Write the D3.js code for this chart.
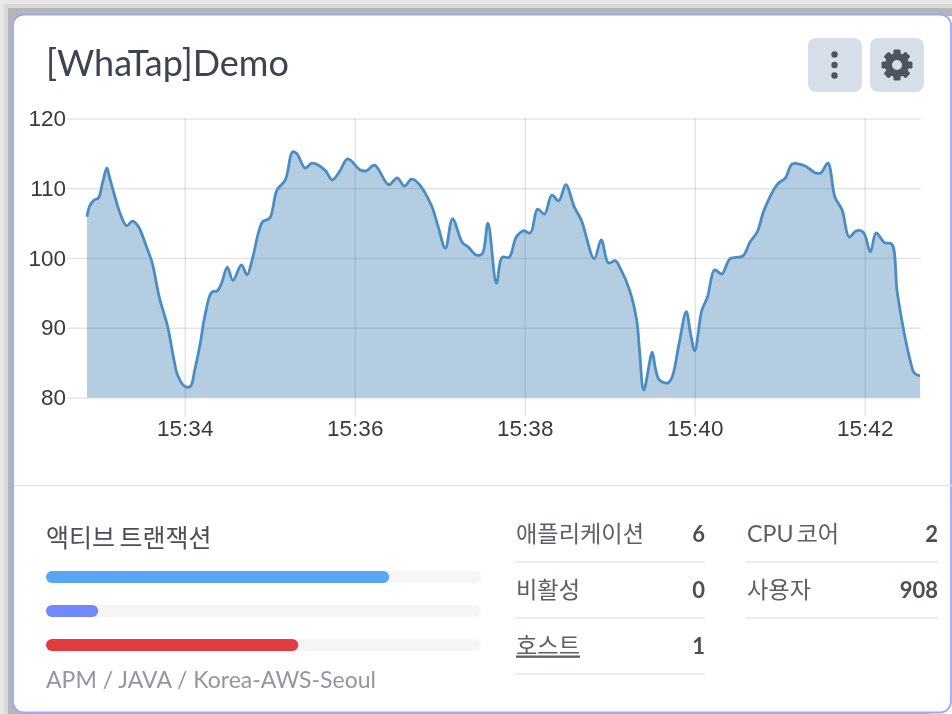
<!DOCTYPE html>
<html>
<head>
<meta charset="utf-8">
<script src="https://cdn.jsdelivr.net/npm/d3@7"></script>
<style>
    html, body { margin: 0; padding: 0; background: #fff; overflow: hidden; }
    svg { display: block; filter: blur(0.55px); }
    text { font-family: Lato, "Noto Sans CJK KR", sans-serif; }
    .tick text { font-family: "Liberation Sans", Arial, sans-serif; }
</style>
</head>
<body>
<div class="container"></div>
<script>
const times = ["15:32:51","15:32:53","15:32:56","15:32:59","15:33:02","15:33:05","15:33:07","15:33:11","15:33:14","15:33:19","15:33:23","15:33:27","15:33:33","15:33:37","15:33:42","15:33:48","15:33:52","15:33:55","15:34:00","15:34:04","15:34:07","15:34:11","15:34:14","15:34:19","15:34:23","15:34:26","15:34:30","15:34:34","15:34:40","15:34:44","15:34:48","15:34:52","15:34:55","15:35:00","15:35:05","15:35:11","15:35:16","15:35:19","15:35:25","15:35:30","15:35:39","15:35:44","15:35:49","15:35:55","15:36:04","15:36:08","15:36:14","15:36:24","15:36:30","15:36:35","15:36:40","15:36:44","15:36:54","15:36:59","15:37:04","15:37:09","15:37:16","15:37:20","15:37:26","15:37:30","15:37:34","15:37:40","15:37:44","15:37:49","15:37:54","15:37:59","15:38:04","15:38:09","15:38:14","15:38:19","15:38:24","15:38:29","15:38:35","15:38:40","15:38:49","15:38:54","15:38:59","15:39:04","15:39:07","15:39:14","15:39:19","15:39:21","15:39:24","15:39:30","15:39:32","15:39:35","15:39:41","15:39:44","15:39:49","15:39:54","15:39:57","15:40:00","15:40:05","15:40:09","15:40:14","15:40:19","15:40:25","15:40:34","15:40:39","15:40:44","15:40:49","15:40:58","15:41:04","15:41:09","15:41:18","15:41:25","15:41:29","15:41:34","15:41:39","15:41:44","15:41:49","15:41:54","15:41:59","15:42:04","15:42:08","15:42:14","15:42:19","15:42:23","15:42:32","15:42:35","15:42:39"];
const values = [105.9,107.5,108.3,108.6,110.8,112.9,111.5,108.6,106.6,104.6,105.3,104.6,101.6,99.3,94.4,90.1,85.8,83.2,81.6,81.6,83.9,87.8,91.5,95.1,95.3,96.4,98.7,96.8,99,97.6,100.1,103.6,105.2,105.7,109.7,111.2,115.2,115,112.9,113.6,112.6,111.2,112.3,114.2,112.6,112.5,113.3,110.5,111.5,110.3,111.3,110.9,107.6,104.4,101.4,105.6,102.2,101.6,100.4,100.6,105,96.4,100.1,100.1,103,103.9,103.6,107,106.3,109,108.2,110.5,107.3,105.4,99.9,102.6,99.3,99.6,98.7,95.4,91.1,86.8,81.1,86.5,84.4,82.5,82.1,82.9,87.8,92.3,89.2,86.7,92.5,94.4,98.3,97.7,99.9,100.3,102.3,103.7,106.9,110.5,111.5,113.5,113.2,112.2,112.2,113.6,108.7,106.9,103,103.9,103.7,100.9,103.6,102.2,102,95,85.4,83.5,83.1];
const yTicks = [80, 90, 100, 110, 120];
const xTicks = ["15:34:00", "15:36:00", "15:38:00", "15:40:00", "15:42:00"];

const activeValues = [78.9, 12, 58];
const activeColors = ["#58a6f2", "#7189fb", "#e23c3f"];

const statsLeft = ["애플리케이션", "비활성", "호스트"];
const statsLeftValues = [6, 0, 1];
const statsRight = ["CPU 코어", "사용자"];
const statsRightValues = [2, 908];

const width = 952
const height = 714
const margin = {"top": 118.5, "right": 32, "bottom": 316.5, "left": 87}

const svg = d3.select(".container")
    .append("svg")
    .attr("width", width)
    .attr("height", height)

// Screenshot shadow around the card, it comes in steps
svg.selectAll(".shadow")
    .data([[0, "#e8e8e8"], [4, "#d8d8d8"], [8, "#b6b6b6"]])
    .enter()
    .append("rect")
        .attr("class", "shadow")
        .attr("x", d => d[0])
        .attr("y", d => d[0])
        .attr("width", width)
        .attr("height", height)
        .attr("fill", d => d[1])
svg.append("rect")
    .attr("x", 930)
    .attr("y", 16)
    .attr("width", 22)
    .attr("height", height)
    .attr("fill", "#fff")

// Card
svg.append("rect")
    .attr("x", 13)
    .attr("y", 14.5)
    .attr("width", 938)
    .attr("height", 698)
    .attr("rx", 11)
    .attr("fill", "#fff")
    .attr("stroke", "#98abfa")
    .attr("stroke-width", 1.8)

svg.append("text")
    .attr("x", 46)
    .attr("y", 76)
    .attr("font-size", 36)
    .attr("fill", "#3c4450")
    .text("[WhaTap]Demo")

// Buttons
const buttons = svg.append("g")
buttons.selectAll("rect")
    .data([808, 870])
    .enter()
    .append("rect")
        .attr("x", d => d)
        .attr("y", 38)
        .attr("width", 54)
        .attr("height", 54)
        .attr("rx", 8)
        .attr("fill", "#d6dfe9")
buttons.selectAll("circle")
    .data([54.5, 65, 75.5])
    .enter()
    .append("circle")
        .attr("cx", 834.5)
        .attr("cy", d => d)
        .attr("r", 3.2)
        .attr("fill", "#4a5560")

const gear = svg.append("g").attr("transform", "translate(897,65)")
gear.selectAll("rect")
    .data(d3.range(0, 360, 45))
    .enter()
    .append("rect")
        .attr("x", -3.6)
        .attr("y", -15.5)
        .attr("width", 7.2)
        .attr("height", 9)
        .attr("rx", 1.5)
        .attr("fill", "#4a5560")
        .attr("transform", d => `rotate(${d})`)
gear.append("circle")
    .attr("r", 8.5)
    .attr("fill", "none")
    .attr("stroke", "#4a5560")
    .attr("stroke-width", 7)

// Chart
const parseTime = d3.timeParse("%H:%M:%S")
const data = times.map((t, i) => ({ time: parseTime(t), value: values[i] }))

const x = d3.scaleTime()
    .domain([parseTime(times[0]), parseTime(times[times.length - 1])])
    .range([margin.left, width - margin.right])

const y = d3.scaleLinear()
    .domain([yTicks[0], yTicks[yTicks.length - 1]])
    .range([height - margin.bottom, margin.top])

// grid lines are drawn first, the area is see-through
const xAxis = svg.append("g")
    .attr("transform", `translate(0, ${y(80)})`)
    .call(d3.axisBottom(x)
        .tickValues(xTicks.map(parseTime))
        .tickFormat(d3.timeFormat("%H:%M"))
        .tickSize(0))
xAxis.selectAll(".tick line")
    .attr("y1", 19)
    .attr("y2", y(120) - y(80))
    .attr("stroke", "#000")
    .attr("stroke-opacity", 0.1)
    .attr("stroke-width", 1.5)
xAxis.selectAll(".tick text")
    .attr("y", 23)
    .attr("font-size", 22.5)
    .attr("fill", "#3a3a3a")
xAxis.select(".domain").remove()

const yAxis = svg.append("g")
    .attr("transform", `translate(${margin.left}, 0)`)
    .call(d3.axisLeft(y)
        .tickValues(yTicks)
        .tickSize(0))
yAxis.selectAll(".tick line")
    .attr("x1", -20)
    .attr("x2", width - margin.right - margin.left + 1)
    .attr("stroke", "#000")
    .attr("stroke-opacity", 0.1)
    .attr("stroke-width", 1.5)
yAxis.selectAll(".tick text")
    .attr("x", -21)
    .attr("font-size", 22.5)
    .attr("fill", "#3a3a3a")
yAxis.select(".domain").remove()

svg.append("path")
    .datum(data)
    .attr("fill", "#2f74ab")
    .attr("fill-opacity", 0.36)
    .attr("d", d3.area()
        .x(d => x(d.time))
        .y0(y(80))
        .y1(d => y(d.value))
        .curve(d3.curveCatmullRom.alpha(0.5)))

svg.append("path")
    .datum(data)
    .attr("fill", "none")
    .attr("stroke", "#4a8cc4")
    .attr("stroke-width", 2.8)
    .attr("d", d3.line()
        .x(d => x(d.time))
        .y(d => y(d.value))
        .curve(d3.curveCatmullRom.alpha(0.5)))

// Divider
svg.append("line")
    .attr("x1", 14).attr("x2", width)
    .attr("y1", 485.5).attr("y2", 485.5)
    .attr("stroke", "#dde3f0")
    .attr("stroke-width", 1.5)

// Active transactions
svg.append("text")
    .attr("x", 46)
    .attr("y", 547)
    .attr("font-size", 25)
    .attr("word-spacing", -2)
    .attr("fill", "#4b5058")
    .text("액티브 트랜잭션")

const barX = d3.scaleLinear().domain([0, 100]).range([0, 435])
const barY = d3.scaleBand()
    .domain(d3.range(activeValues.length))
    .range([571, 651 + 22])
    .paddingInner(0)

const bars = svg.append("g").attr("transform", "translate(46, 0)")
bars.selectAll(".track")
    .data(activeValues)
    .enter()
    .append("rect")
        .attr("class", "track")
        .attr("y", (d, i) => barY(i))
        .attr("width", barX(100))
        .attr("height", 12)
        .attr("rx", 6)
        .attr("fill", "#f5f5f5")
bars.selectAll(".bar")
    .data(activeValues)
    .enter()
    .append("rect")
        .attr("class", "bar")
        .attr("y", (d, i) => barY(i))
        .attr("width", d => barX(d))
        .attr("height", 12)
        .attr("rx", 6)
        .attr("fill", (d, i) => activeColors[i])

svg.append("text")
    .attr("x", 46)
    .attr("y", 688)
    .attr("font-size", 23)
    .attr("fill", "#9097a0")
    .text("APM / JAVA / Korea-AWS-Seoul")

// Stat lists
const drawStats = (labels, nums, x0, x1) => {
    const rows = svg.append("g")
        .selectAll("g")
        .data(labels)
        .enter()
        .append("g")
        .attr("transform", (d, i) => `translate(0, ${541.5 + i * 56})`)
    rows.append("text")
        .attr("x", x0 + 1)
        .attr("font-size", 23.2)
        .attr("word-spacing", -3)
        .attr("fill", "#5a6068")
        .style("text-decoration", d => d === "호스트" ? "underline" : null)
        .text(d => d)
    rows.append("text")
        .attr("x", x1)
        .attr("text-anchor", "end")
        .attr("font-size", 22)
        .attr("font-weight", 700)
        .attr("fill", "#4a4f57")
        .text((d, i) => nums[i])
    rows.append("line")
        .attr("x1", x0).attr("x2", x1)
        .attr("y1", 20.5).attr("y2", 20.5)
        .attr("stroke", "#e4e4e4")
        .attr("stroke-width", 1.5)
}
drawStats(statsLeft, statsLeftValues, 515, 705)
drawStats(statsRight, statsRightValues, 746, 938)
</script>
</body>
</html>
